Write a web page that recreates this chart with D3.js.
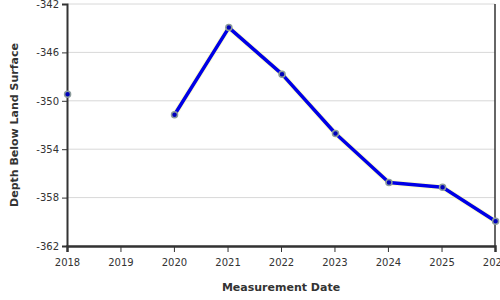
<!DOCTYPE html>
<meta charset="utf-8">
<script src="https://d3js.org/d3.v7.min.js"></script>
<style>
  body { margin: 0; background: #fff; }
  text { font-family: "DejaVu Sans", Verdana, sans-serif; fill: #333; }
</style>
<div id="chart"></div>
<script>

// measurement dates (null value = no reading, breaks the line)
var dates = ["2018-01-05", "2019-01-05", "2020-01-05", "2021-01-10", "2022-01-08",
             "2023-01-08", "2024-01-08", "2025-01-08", "2026-01-05"];
var depths = [-349.45, null, -351.15, -343.95, -347.8, -352.7, -356.75, -357.15, -359.95];

var yTicks = [-342, -346, -350, -354, -358, -362];
var xTickYears = [2018, 2019, 2020, 2021, 2022, 2023, 2024, 2025, 2026];

var parse = d3.timeParse("%Y-%m-%d");
var data = dates.map(function(d, i) { return {date: parse(d), value: depths[i]}; });

// plot area
var margin = {top: 4, right: 5, bottom: 54, left: 67},
    width = 500 - margin.left - margin.right,
    height = 300 - margin.top - margin.bottom;

var svg = d3.select("#chart")
  .append("svg")
    .attr("width", 500)
    .attr("height", 300)
  .append("g")
    .attr("transform", "translate(" + margin.left + "," + margin.top + ")");

var x = d3.scaleTime()
  .domain([new Date(2018, 0, 1), new Date(2026, 0, 1)])
  .range([0, width]);

var y = d3.scaleLinear()
  .domain([-362, -342])
  .range([height, 0]);

// grid lines
svg.append("g")
  .selectAll("line")
  .data(yTicks)
  .enter()
  .append("line")
    .attr("x1", 0)
    .attr("x2", width)
    .attr("y1", function(d) { return y(d); })
    .attr("y2", function(d) { return y(d); })
    .attr("stroke", "#d8d8d8")
    .attr("stroke-width", 1);

// right border
svg.append("line")
  .attr("x1", width).attr("x2", width)
  .attr("y1", 0).attr("y2", height)
  .attr("stroke", "#333")
  .attr("stroke-width", 1.5);

// Y axis (plain hyphen for the minus sign)
var yAxis = svg.append("g")
  .call(d3.axisLeft(y).tickValues(yTicks).tickSize(5).tickPadding(3)
    .tickFormat(function(d) { return String(d); }));
yAxis.select(".domain").attr("stroke", "#333").attr("stroke-width", 2);
yAxis.selectAll(".tick line").attr("stroke", "#333");
yAxis.selectAll("text").style("font-size", "10px").style("fill", "#333");

// X axis
var xAxis = svg.append("g")
  .attr("transform", "translate(0," + height + ")")
  .call(d3.axisBottom(x)
    .tickValues(xTickYears.map(function(yr) { return new Date(yr, 0, 1); }))
    .tickFormat(d3.timeFormat("%Y"))
    .tickSize(6).tickPadding(7));
xAxis.select(".domain").attr("stroke", "#333").attr("stroke-width", 2.5);
xAxis.selectAll(".tick line").attr("stroke", "#333");
xAxis.selectAll("text").style("font-size", "10px").style("fill", "#333");

// axis titles
svg.append("text")
  .attr("x", width / 2)
  .attr("y", height + 45)
  .attr("text-anchor", "middle")
  .style("font-size", "11px")
  .style("font-weight", "bold")
  .text("Measurement Date");

svg.append("text")
  .attr("transform", "rotate(-90)")
  .attr("x", -121)
  .attr("y", -49)
  .attr("text-anchor", "middle")
  .style("font-size", "11px")
  .style("font-weight", "bold")
  .text("Depth Below Land Surface");

// the line
var line = d3.line()
  .defined(function(d) { return d.value !== null; })
  .x(function(d) { return x(d.date); })
  .y(function(d) { return y(d.value); });

svg.append("path")
  .datum(data)
  .attr("fill", "none")
  .attr("stroke", "#ffff99")
  .attr("stroke-opacity", 0.5)
  .attr("stroke-width", 5.5)
  .attr("d", line);

svg.append("path")
  .datum(data)
  .attr("fill", "none")
  .attr("stroke", "#0000e6")
  .attr("stroke-width", 3.5)
  .attr("stroke-linejoin", "round")
  .attr("d", line);

// the points
svg.append("g")
  .selectAll("circle")
  .data(data.filter(function(d) { return d.value !== null; }))
  .enter()
  .append("circle")
    .attr("cx", function(d) { return x(d.date); })
    .attr("cy", function(d) { return y(d.value); })
    .attr("r", 3)
    .attr("fill", "#0000bb")
    .attr("stroke", "#8c9c9c")
    .attr("stroke-width", 1.5);

</script>
